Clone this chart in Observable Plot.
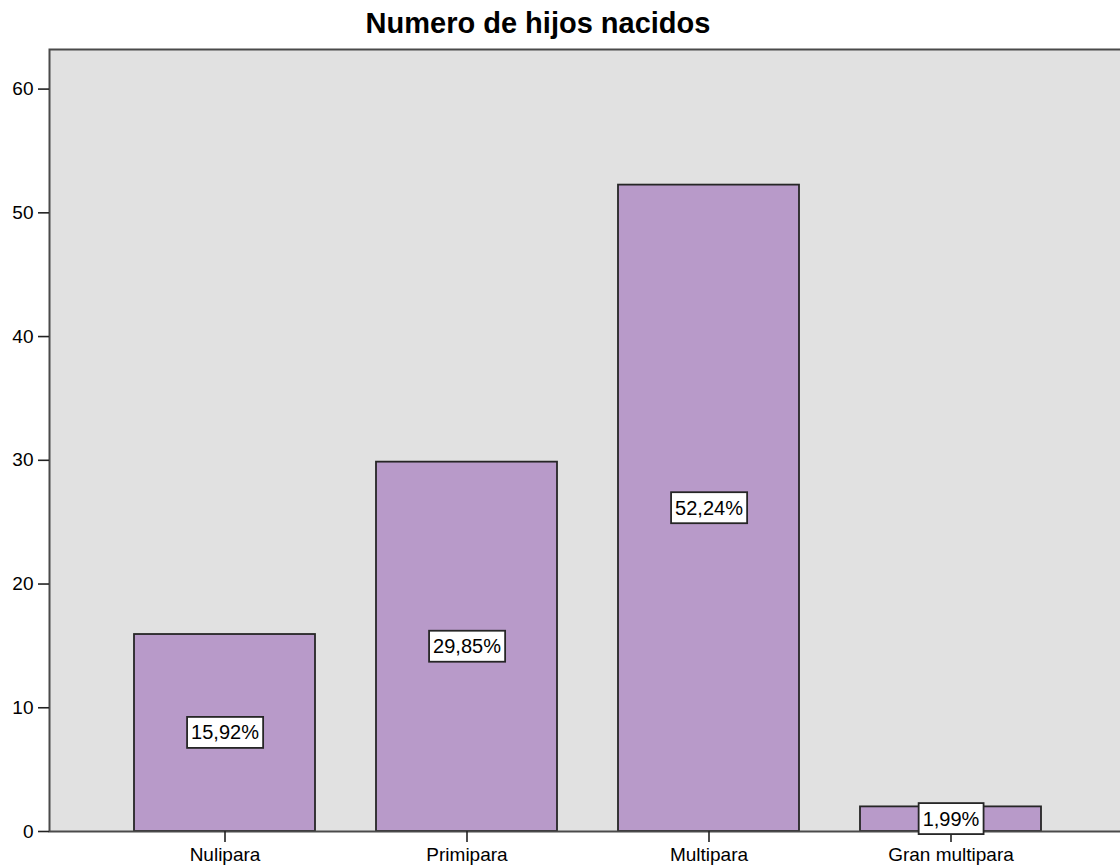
<!DOCTYPE html>
<html>
<head>
<meta charset="utf-8">
<script src="https://cdn.jsdelivr.net/npm/d3@7"></script>
<script src="https://cdn.jsdelivr.net/npm/@observablehq/plot@0.6"></script>
<style>
  html, body { margin: 0; padding: 0; background: #ffffff; }
  #title {
    width: 1076px; height: 40px; text-align: center;
    font-family: "Liberation Sans", Arial, sans-serif; font-weight: bold;
    font-size: 29px; line-height: 46px; color: #000;
  }
  #chart svg { display: block; }
</style>
</head>
<body>
<div id="title">Numero de hijos nacidos</div>
<div id="chart"></div>
<script>
const categories = ["Nulipara", "Primipara", "Multipara", "Gran multipara"];
const percents = [15.92, 29.85, 52.24, 1.99];
const yTicks = [0, 10, 20, 30, 40, 50, 60];

const data = categories.map((c, i) => ({cat: categories[i], value: percents[i]}));
const fmt = v => v.toFixed(2).replace(".", ",") + "%";

const font = "Liberation Sans, Arial, sans-serif";

const chart = Plot.plot({
  width: 1120,
  height: 828,
  marginTop: 9,
  marginBottom: 37,
  marginLeft: 49,
  marginRight: -6,
  style: {fontFamily: font, fontSize: "19px", color: "#000", background: "transparent"},
  x: {domain: categories, paddingInner: 0.252, paddingOuter: 0.351, label: null},
  y: {domain: [0, 63.2], label: null},
  marks: [
    Plot.frame({fill: "#e1e1e1", stroke: null}),
    Plot.barY(data, {x: "cat", y: "value", fill: "#b89ac9", stroke: "#262626", strokeWidth: 1.8}),
    Plot.frame({fill: "none", stroke: "#4a4a4a", strokeWidth: 2}),
    Plot.axisY({ticks: yTicks, tickSize: 11, tickPadding: 5, label: null, fontSize: 19, stroke: "#222", strokeWidth: 1.6}),
    Plot.axisX({tickSize: 11, tickPadding: 5, label: null, fontSize: 19, stroke: "#222", strokeWidth: 1.6}),
    Plot.text(data, {x: "cat", y: d => d.value / 2, text: d => fmt(d.value), fontSize: 20, fill: "#000", className: "vlabel"})
  ]
});

document.getElementById("chart").appendChild(chart);

// white boxes behind value labels
document.querySelectorAll(".vlabel text").forEach(t => {
  const b = t.getBBox();
  const padX = 4, h = 31;
  const cy = b.y + b.height / 2;
  const r = document.createElementNS("http://www.w3.org/2000/svg", "rect");
  r.setAttribute("x", b.x - padX);
  r.setAttribute("y", cy - h / 2);
  r.setAttribute("width", b.width + 2 * padX);
  r.setAttribute("height", h);
  r.setAttribute("fill", "#ffffff");
  r.setAttribute("stroke", "#262626");
  r.setAttribute("stroke-width", 1.8);
  const tr = t.getAttribute("transform");
  if (tr) r.setAttribute("transform", tr);
  t.parentNode.insertBefore(r, t);
});
</script>
</body>
</html>
